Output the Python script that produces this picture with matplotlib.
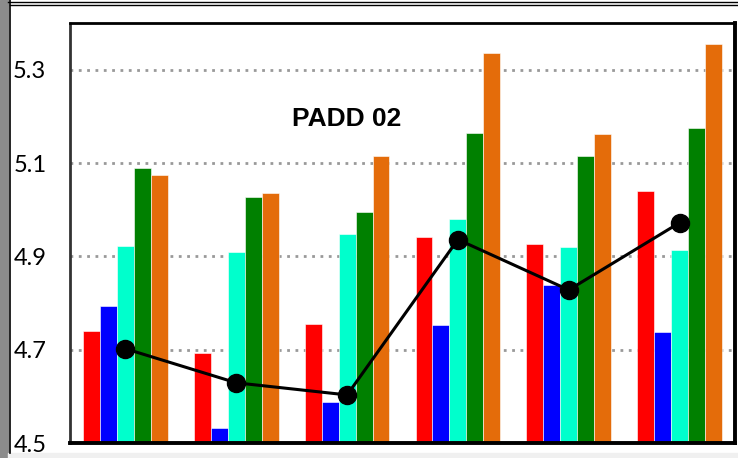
import numpy as np
import matplotlib.pyplot as plt
from matplotlib.lines import Line2D
from matplotlib.patches import Rectangle

# values (6 periods, 5 bar series + 1 line)
red_vals = [4.740, 4.693, 4.755, 4.942, 4.927, 5.041]
blue_vals = [4.794, 4.532, 4.588, 4.753, 4.839, 4.738]
aqua_vals = [4.923, 4.910, 4.948, 4.981, 4.921, 4.914]
green_vals = [5.090, 5.028, 4.994, 5.165, 5.116, 5.176]
orange_vals = [5.075, 5.036, 5.114, 5.335, 5.163, 5.356]
line_vals = [4.702, 4.629, 4.603, 4.936, 4.828, 4.972]
yticks = [4.5, 4.7, 4.9, 5.1, 5.3]
title = "PADD 02"

series = [
    (red_vals, "#FF0000"),
    (blue_vals, "#0000FF"),
    (aqua_vals, "#00FFCC"),
    (green_vals, "#008000"),
    (orange_vals, "#E46C0A"),
]

W, H = 738, 458
fig = plt.figure(figsize=(W / 100, H / 100), dpi=100)
ax = fig.add_axes([70 / W, 1 - 443 / H, 665 / W, 420 / H])

x = np.arange(len(red_vals))
bw = 0.153
for i, (vals, col) in enumerate(series):
    ax.bar(x + (i - 2) * bw, np.array(vals) - 4.5, bw, bottom=4.5, color=col,
           edgecolor="white", linewidth=0.4, zorder=2)

ax.plot(x, line_vals, color="black", lw=2.2, marker="o", markersize=13, zorder=4)

ax.set_xlim(-0.5, len(red_vals) - 0.5)
ax.set_ylim(4.5, 5.4)
ax.set_yticks(yticks)
ax.set_yticklabels([f"{v:.1f}" for v in yticks], fontfamily="Lato", fontsize=17)
ax.set_xticks([])
ax.tick_params(axis="y", length=0, pad=17)
ax.yaxis.grid(True, color="#999999", linestyle=(0, (1, 2)), linewidth=2, zorder=1)
ax.set_axisbelow(True)

ax.spines["left"].set_linestyle((0, (1, 1)))
ax.spines["left"].set_linewidth(2)
ax.spines["left"].set_color("#333333")
ax.spines["top"].set_linewidth(2)
ax.spines["right"].set_linewidth(2.8)
ax.spines["bottom"].set_linewidth(2.8)

ax.text(2, 5.195, title, ha="center", va="center", fontsize=19,
        fontweight="bold", fontfamily="Liberation Sans")

# outer frame bits of the original screenshot
fig.patches.append(Rectangle((0, 0), 8 / W, 1, transform=fig.transFigure,
                             color="#8c8c8c", zorder=0))
fig.lines.append(Line2D([9.5 / W, 9.5 / W], [5 / H, 1], transform=fig.transFigure,
                        color="black", lw=1.2))
fig.lines.append(Line2D([8 / W, 1], [1 - 1.5 / H, 1 - 1.5 / H], transform=fig.transFigure,
                        color="black", lw=1.0))
fig.lines.append(Line2D([10 / W, 1], [1 - 4.5 / H, 1 - 4.5 / H], transform=fig.transFigure,
                        color="black", lw=1.0))
fig.patches.append(Rectangle((8 / W, 0), 1, 5 / H, transform=fig.transFigure,
                             color="#f0f0f0", zorder=0))

fig.savefig("out.png", dpi=100)
